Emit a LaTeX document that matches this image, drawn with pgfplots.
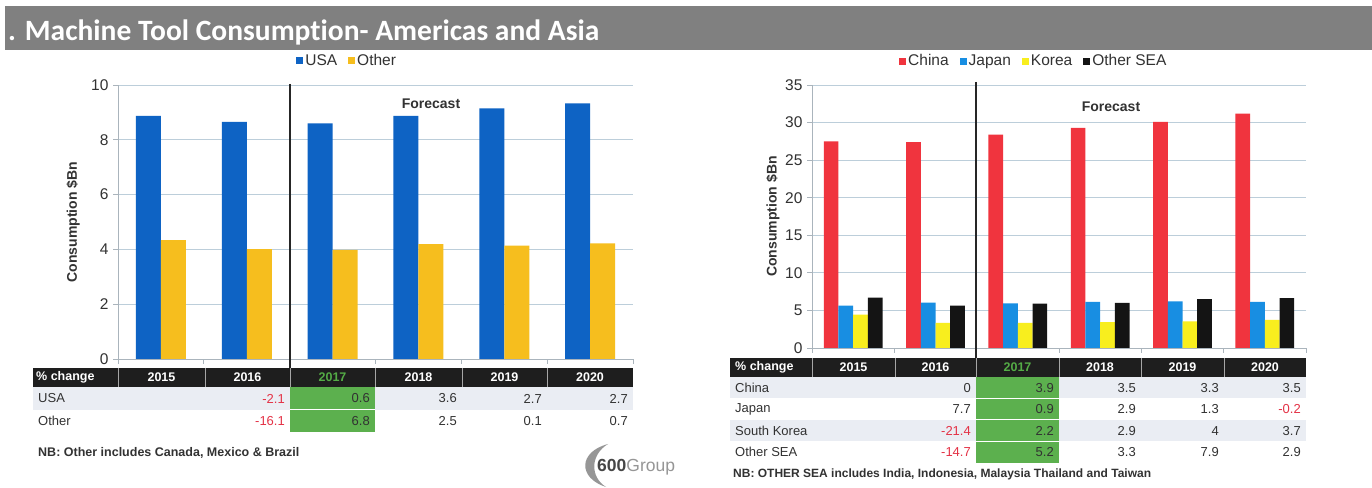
\documentclass[border=0pt]{standalone}
\usepackage{pgfplots}
\pgfplotsset{compat=1.18}
\usepackage{pgfplotstable}
\usepackage{fontspec}
\setmainfont{Liberation Sans}
\newfontfamily\titlefont[Ligatures={NoCommon}]{Carlito}
\definecolor{usa}{RGB}{14,99,196}
\definecolor{oth}{RGB}{246,190,30}
\definecolor{china}{RGB}{240,52,62}
\definecolor{japan}{RGB}{24,142,226}
\definecolor{korea}{RGB}{248,238,30}
\definecolor{sea}{RGB}{20,20,20}
\definecolor{gridc}{RGB}{188,206,218}
\definecolor{axc}{RGB}{170,180,188}
\definecolor{txt}{RGB}{50,50,50}
\definecolor{hdr}{RGB}{30,30,30}
\definecolor{rowbg}{RGB}{234,237,243}
\definecolor{greenc}{RGB}{92,176,78}
\definecolor{greent}{RGB}{84,172,70}
\definecolor{negred}{RGB}{228,50,70}
\definecolor{titlebg}{RGB}{128,128,128}
\definecolor{logod}{RGB}{70,70,70}
\definecolor{logol}{RGB}{150,150,150}

\pgfplotstableread{
x usa other
0 8.87 4.34
1 8.65 4.01
2 8.60 3.98
3 8.87 4.19
4 9.15 4.14
5 9.33 4.22
}\amer
\pgfplotstableread{
x china japan korea sea
0 27.5 5.65 4.45 6.70
1 27.4 6.05 3.35 5.65
2 28.4 5.95 3.35 5.90
3 29.3 6.15 3.45 6.00
4 30.1 6.20 3.55 6.50
5 31.2 6.15 3.75 6.65
}\asia

\pgfplotsset{
 mybar/.style={
  scale only axis, ybar=0pt,
  xmin=-0.5, xmax=5.5, ymin=0,
  xtick={-0.5,0.5,1.5,2.5,3.5,4.5,5.5}, xticklabels={},
  axis x line*=bottom, axis y line*=left,
  axis line style={axc, line width=0.8pt, -},
  tick style={axc, line width=0.8pt},
  tick align=outside, major tick length=5pt,
  ymajorgrids, grid style={gridc, line width=0.9pt},
  yticklabel style={font=\fontsize{15.5}{16}\selectfont, text=txt, xshift=-1pt},
  /pgf/number format/assume math mode=true,
  ylabel style={font=\bfseries\fontsize{14}{15}\selectfont, text=txt, anchor=center},
  legend style={draw=none, fill=none, font=\fontsize{15.5}{16}\selectfont, text=txt,
    legend columns=-1, /tikz/every even column/.append style={column sep=9pt},
    inner sep=0pt, anchor=center},
  legend image code/.code={\fill[##1, draw=none] (0pt,-3.5pt) rectangle (7pt,3.5pt);},
 }
}

\begin{document}
\begin{tikzpicture}
\begin{scope}[x=1pt, y=-1pt, shift={(0pt,486pt)}]
\fill[white] (0,0) rectangle (1372,486);
\fill[titlebg] (5,6) rectangle (1372,50);
\node[anchor=base west, text=white, font=\titlefont\bfseries\fontsize{29.5}{31}\selectfont, inner sep=0pt] at (8,41) {. Machine Tool Consumption- Americas and Asia};
\end{scope}

% ---------- left axis ----------
\begin{axis}[mybar, at={(118pt,127pt)}, anchor=south west,
  width=515pt, height=274pt, ymax=10, ytick={0,2,...,10},
  bar width=25pt,
  ylabel={Consumption \$Bn},
  ylabel style={at={(axis description cs:-0.087,0.5)}},
  legend style={at={(0.445,1.088)}}]
\addplot[fill=usa, draw=none] table[x=x, y=usa]{\amer};
\addplot[fill=oth, draw=none] table[x=x, y=other]{\amer};
\legend{USA,Other}
\end{axis}

% ---------- right axis ----------
\begin{axis}[mybar, at={(812pt,138pt)}, anchor=south west,
  width=494pt, height=263pt, ymax=35, ytick={0,5,...,35},
  bar width=14.7pt,
  ylabel={Consumption \$Bn},
  ylabel style={at={(axis description cs:-0.079,0.5)}},
  legend style={at={(0.449,1.091)}}]
\addplot[fill=china, draw=none] table[x=x, y=china]{\asia};
\addplot[fill=japan, draw=none] table[x=x, y=japan]{\asia};
\addplot[fill=korea, draw=none] table[x=x, y=korea]{\asia};
\addplot[fill=sea, draw=none] table[x=x, y=sea]{\asia};
\legend{China,Japan,Korea,Other SEA}
\end{axis}

\begin{scope}[x=1pt, y=-1pt, shift={(0pt,486pt)}]
\tikzset{
 hd/.style={text=white, font=\bfseries\fontsize{12.5}{13}\selectfont, inner sep=0pt},
 dv/.style={text=txt, font=\fontsize{13}{14}\selectfont, inner sep=0pt, anchor=east},
 lb/.style={text=txt, font=\fontsize{13}{14}\selectfont, inner sep=0pt, anchor=west},
}
% dividers
\draw[black!85, line width=1.3pt] (290,84) -- (290,368);
\draw[black!85, line width=1.3pt] (976,82) -- (976,358);
\node[font=\bfseries\fontsize{14}{15}\selectfont, text=txt] at (431,104) {Forecast};
\node[font=\bfseries\fontsize{14}{15}\selectfont, text=txt] at (1111,107) {Forecast};

% ===== left table =====
\fill[hdr] (33,368) rectangle (633,387);
\foreach \xx in {118,205,290,375,462,547} \draw[gray!70, line width=0.8pt] (\xx,368) -- (\xx,387);
\fill[rowbg] (33,387) rectangle (633,410);
\fill[greenc] (290,387) rectangle (375,432);
\draw[white, line width=1pt] (290,410) -- (375,410);
\node[hd, anchor=west] at (36,377.5) {\% change};
\node[hd] at (161.5,377.5) {2015};
\node[hd] at (247.5,377.5) {2016};
\node[hd, text=greent] at (332.5,377.5) {2017};
\node[hd] at (418.5,377.5) {2018};
\node[hd] at (504.5,377.5) {2019};
\node[hd] at (590,377.5) {2020};
\node[lb] at (38,398.5) {USA};
\node[dv, text=negred] at (285,398.5) {-2.1};
\node[dv] at (370,398.5) {0.6};
\node[dv] at (457,398.5) {3.6};
\node[dv] at (542,398.5) {2.7};
\node[dv] at (628,398.5) {2.7};
\node[lb] at (38,421) {Other};
\node[dv, text=negred] at (285,421) {-16.1};
\node[dv] at (370,421) {6.8};
\node[dv] at (457,421) {2.5};
\node[dv] at (542,421) {0.1};
\node[dv] at (628,421) {0.7};
\node[anchor=west, font=\bfseries\fontsize{12.5}{13}\selectfont, text=txt, inner sep=0pt] at (38,453) {NB: Other includes Canada, Mexico \& Brazil};
% logo
\fill[logol] (608,444) .. controls (578,452) and (578,478) .. (606,487) .. controls (590,477) and (590,455) .. (608,444);
\node[anchor=west, inner sep=0pt, font=\fontsize{17.5}{18}\selectfont] at (597,467) {{\bfseries\color{logod}600}{\color{logol}Group}};

% ===== right table =====
\fill[hdr] (730,358) rectangle (1306,377);
\foreach \xx in {812,895,976,1059,1141,1224} \draw[gray!70, line width=0.8pt] (\xx,358) -- (\xx,377);
\fill[rowbg] (730,377) rectangle (1306,398.5);
\fill[rowbg] (730,420) rectangle (1306,441.5);
\fill[greenc] (976,377) rectangle (1059,463);
\foreach \yy in {398.5,420,441.5} \draw[white, line width=1pt] (976,\yy) -- (1059,\yy);
\node[hd, anchor=west] at (735,367.5) {\% change};
\node[hd] at (853.5,367.5) {2015};
\node[hd] at (935.5,367.5) {2016};
\node[hd, text=greent] at (1017.5,367.5) {2017};
\node[hd] at (1100,367.5) {2018};
\node[hd] at (1182.5,367.5) {2019};
\node[hd] at (1265,367.5) {2020};
% China
\node[lb] at (735,387.75) {China};
\node[dv] at (971,387.75) {0};
\node[dv] at (1054,387.75) {3.9};
\node[dv] at (1136,387.75) {3.5};
\node[dv] at (1219,387.75) {3.3};
\node[dv] at (1301,387.75) {3.5};
% Japan
\node[lb] at (735,409.25) {Japan};
\node[dv] at (971,409.25) {7.7};
\node[dv] at (1054,409.25) {0.9};
\node[dv] at (1136,409.25) {2.9};
\node[dv] at (1219,409.25) {1.3};
\node[dv, text=negred] at (1301,409.25) {-0.2};
% South Korea
\node[lb] at (735,430.75) {South Korea};
\node[dv, text=negred] at (971,430.75) {-21.4};
\node[dv] at (1054,430.75) {2.2};
\node[dv] at (1136,430.75) {2.9};
\node[dv] at (1219,430.75) {4};
\node[dv] at (1301,430.75) {3.7};
% Other SEA
\node[lb] at (735,452.25) {Other SEA};
\node[dv, text=negred] at (971,452.25) {-14.7};
\node[dv] at (1054,452.25) {5.2};
\node[dv] at (1136,452.25) {3.3};
\node[dv] at (1219,452.25) {7.9};
\node[dv] at (1301,452.25) {2.9};
\node[anchor=west, font=\bfseries\fontsize{12}{13}\selectfont, text=txt, inner sep=0pt] at (733,474) {NB: OTHER SEA includes India, Indonesia, Malaysia Thailand and Taiwan};
\end{scope}
\end{tikzpicture}
\end{document}
